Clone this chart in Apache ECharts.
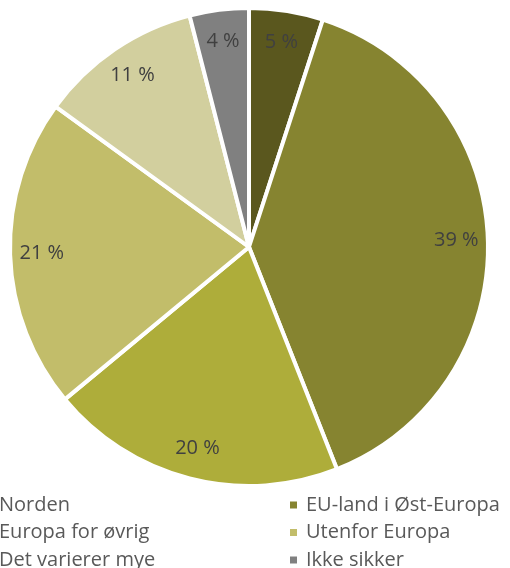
<!DOCTYPE html>
<html>
<head>
<meta charset="utf-8">
<script src="https://cdn.jsdelivr.net/npm/echarts@6/dist/echarts.min.js"></script>
<style>html,body{margin:0;padding:0;background:#fff;}#c{width:510px;height:568px;}</style>
</head>
<body>
<div id="c"></div>
<script>
const categories = ['Norden', 'EU-land i Øst-Europa', 'Europa for øvrig', 'Utenfor Europa', 'Det varierer mye', 'Ikke sikker'];
const values = [5, 39, 20, 21, 11, 4];
const colors = ['#5a571e', '#868430', '#aead3a', '#c2bd6a', '#d2cf9e', '#808080'];
const legendLeft = ['Norden', 'Europa for øvrig', 'Det varierer mye'];
const legendRight = ['EU-land i Øst-Europa', 'Utenfor Europa', 'Ikke sikker'];

const FONT = '"Open Sans", "Noto Sans", sans-serif';
const chart = echarts.init(document.getElementById('c'), null, {renderer: 'canvas'});
const data = categories.map((n, i) => ({name: n, value: values[i], itemStyle: {color: colors[i]}}));
const R = 239;
const C = [249, 247];
const legendCommon = {
  orient: 'vertical', icon: 'rect', itemWidth: 9, itemHeight: 9, itemGap: 7.5,
  selectedMode: false, height: 120, padding: 0,
  textStyle: {fontFamily: FONT, fontSize: 20, color: '#595959', lineHeight: 20, padding: [0, 0, 0, 3]}
};
chart.setOption({
  animation: false,
  color: colors,
  legend: [
    Object.assign({}, legendCommon, {data: legendLeft, left: -19, top: 495}),
    Object.assign({}, legendCommon, {data: legendRight, left: 288, top: 495})
  ],
  series: [
    {
      type: 'pie', center: C, radius: [0, R], startAngle: 90, clockwise: true,
      data: data,
      itemStyle: {borderColor: '#fff', borderWidth: 4},
      label: {show: false}, labelLine: {show: false}, emphasis: {disabled: true}, silent: true
    },
    {
      type: 'pie', center: C, radius: [R * 0.71, R], startAngle: 90, clockwise: true,
      data: categories.map((n, i) => ({name: n, value: values[i]})),
      itemStyle: {color: 'rgba(0,0,0,0)', borderWidth: 0},
      label: {show: true, position: 'inside', formatter: '{c} %', fontFamily: FONT, fontSize: 20, color: '#404040'},
      labelLine: {show: false}, emphasis: {disabled: true}, silent: true
    }
  ]
});
</script>
</body>
</html>
